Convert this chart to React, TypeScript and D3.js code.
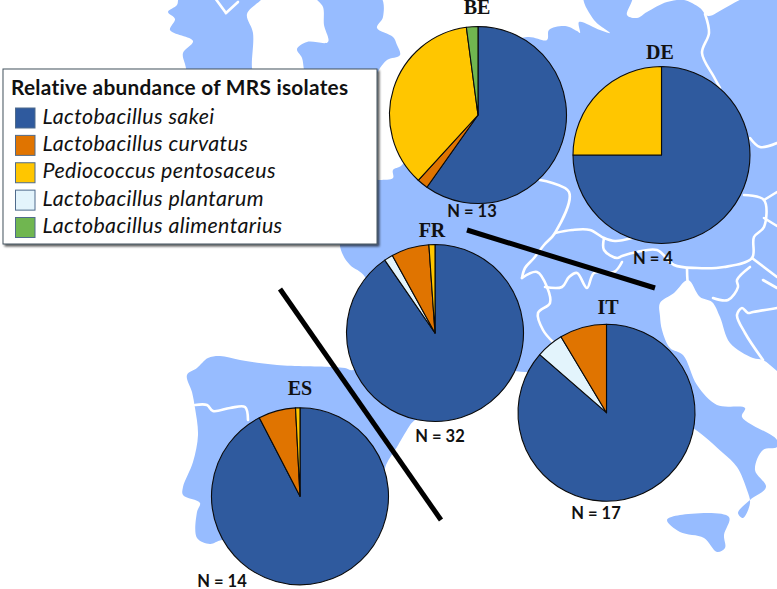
import React from "react";
import * as d3 from "d3";

// ---- data ----
const legendTitle = "Relative abundance of MRS isolates";
const legendOrder = ["Lactobacillus sakei", "Lactobacillus curvatus", "Pediococcus pentosaceus", "Lactobacillus plantarum", "Lactobacillus alimentarius"];
const sliceOrder = ["Lactobacillus sakei", "Lactobacillus plantarum", "Lactobacillus curvatus", "Pediococcus pentosaceus", "Lactobacillus alimentarius"];
const speciesColors = ["#2F5A9E", "#E07400", "#FFC600", "#E3F4FC", "#70B650"];

const countries = ["BE", "DE", "FR", "IT", "ES"];
const sampleSizes = [13, 4, 32, 17, 14];
// percentages, in sliceOrder
const beValues = [59.8, 0, 2, 36.1, 2.1];
const deValues = [75, 0, 0, 25, 0];
const frValues = [90.4, 1.6, 6.9, 1.1, 0];
const itValues = [86.4, 5, 8.6, 0, 0];
const esValues = [92.4, 0, 6.8, 0.8, 0];
const allValues = [beValues, deValues, frValues, itValues, esValues];

// backdrop map outlines, in picture pixels
type P = [number, number];
const ireland: P[] = [[168, 12], [175, 19], [170, 30], [193, 41], [183, 53], [185, 64], [192, 80], [255, 80], [252, 68], [253, 33], [247, 14], [263, -4], [180, -4], [177, 5]];
const britain: P[] = [[315, -4], [323, 7], [324, 25], [328, 42], [307, 42], [297, 49], [302, 58], [304, 70], [306, 80], [372, 80], [380, 68], [387, 60], [400, 55], [397, 45], [393, 37], [377, 28], [383, 17], [380, -4]];
const mainland: P[] = [
  [372, 180], [380, 180], [393, 178], [393, 170], [402, 165], [470, 60], [527, 37], [547, 40], [549, 30], [565, 26], [577, 31], [580, 33], [579, 22],
  [600, 30], [610, 33], [594, 20], [584, -4], [632, -4], [627, 15], [637, 18], [647, 12], [667, 2], [684, 0], [700, 8], [708, 16], [725, 8], [750, -4], [790, -4],
  [790, 382], [777, 371], [763, 360], [753, 358], [730, 343], [720, 317], [712, 302], [700, 297], [688, 280], [674, 293], [660, 303], [660, 316], [662, 330],
  [670, 348], [683, 355], [697, 385], [717, 405], [745, 408], [742, 417], [777, 440], [777, 447], [763, 450], [755, 470], [766, 487], [750, 500], [738, 513],
  [743, 518], [750, 503], [747, 490], [737, 467], [723, 453], [693, 428], [640, 400], [560, 376], [525, 372], [500, 372], [470, 400], [415, 420], [407, 430],
  [397, 447], [386, 465], [380, 490], [350, 520], [300, 540], [222, 540], [210, 544], [197, 538], [197, 512], [200, 503], [183, 495], [183, 487], [193, 462],
  [198, 435], [195, 408], [192, 392], [187, 375], [197, 368], [208, 358], [220, 356], [240, 360], [277, 365], [333, 367], [345, 368], [353, 370], [375, 330],
  [365, 277], [350, 265], [343, 255], [340, 240],
];
const sicily: P[] = [[667, 520], [680, 515], [729, 517], [724, 535], [725, 548], [717, 552], [704, 538], [680, 532]];

const borders: P[][] = [
  [[226, 13], [215, -2]],
  [[226, 13], [238, 2]],
  [[540, 180], [569, 192], [555, 233], [544, 245], [534, 258], [525, 268], [522, 278]],
  [[522, 278], [537, 272], [547, 287], [550, 303], [538, 313], [543, 330], [553, 342]],
  [[555, 233], [572, 230], [590, 230], [604, 238], [615, 241], [632, 238]],
  [[604, 238], [604, 250], [617, 258], [622, 256], [637, 252], [657, 250], [674, 265], [697, 268], [724, 267], [752, 258], [754, 237], [764, 227], [764, 200], [744, 195]],
  [[764, 200], [777, 192]],
  [[764, 218], [777, 226]],
  [[752, 258], [777, 277]],
  [[622, 262], [614, 272], [594, 273], [587, 288], [577, 273], [569, 277], [562, 287], [545, 287]],
  [[687, 268], [689, 290], [695, 300]],
  [[750, 267], [737, 280], [738, 287], [728, 300], [713, 298]],
  [[705, 14], [709, 33], [702, 53], [714, 77], [720, 88]],
  [[750, 138], [760, 147], [777, 143]],
  [[763, 360], [745, 333], [737, 315], [742, 308], [748, 313], [753, 312], [777, 308]],
  [[763, 280], [777, 288]],
  [[195, 405], [207, 405], [213, 411], [230, 408], [245, 407], [248, 420]],
];

const dividers: P[][] = [
  [[467, 230], [655, 288]],
  [[280, 289], [441, 520]],
];

const pieCenters: P[] = [[478, 115], [661.5, 155], [435, 333], [606.5, 412.7], [300, 496.3]];
const countryLabelPos: P[] = [[477, 14], [660, 59], [432, 237], [608, 314], [300, 395]];
const sampleLabelPos: P[] = [[472, 217], [653, 264], [440, 442], [596, 519], [222, 587]];

// ---- helpers ----
const pieRadius = 88.5;
const pie = d3.pie<number>().sort(null).value((d) => d);
const arc = d3.arc<d3.PieArcDatum<number>>().innerRadius(0).outerRadius(pieRadius);
const colorOf = d3.scaleOrdinal<string, string>().domain(legendOrder).range(speciesColors);
const landPath = d3.line<P>().curve(d3.curveCatmullRomClosed.alpha(0.5));
const borderPath = d3.line<P>().curve(d3.curveCatmullRom.alpha(0.5));
const rowY = d3.scaleLinear().domain([0, 4]).range([118, 227.5]);

const LAND = "#97BCFF";
const SANS = "Lato, 'Open Sans', sans-serif";
const SERIF = "'Liberation Serif', serif";

export default function App() {
  return (
    <svg width={777} height={589} style={{ position: "absolute", left: 0, top: 0, display: "block", background: "#fff" }}>
      <defs>
        <filter id="soft" x="-5%" y="-5%" width="110%" height="110%">
          <feGaussianBlur stdDeviation="0.7" />
        </filter>
        <filter id="shadow" x="-3%" y="-3%" width="108%" height="110%">
          <feDropShadow dx="2" dy="2" stdDeviation="1.2" floodColor="#000" floodOpacity="0.65" />
        </filter>
      </defs>

      <g filter="url(#soft)">
        {[ireland, britain, mainland, sicily].map((poly, i) => (
          <path key={i} d={landPath(poly) ?? ""} fill={LAND} />
        ))}
        {borders.map((b, i) => (
          <path key={i} d={borderPath(b) ?? ""} fill="none" stroke="#fff" strokeWidth={2.6} strokeLinejoin="round" strokeLinecap="round" />
        ))}
      </g>

      {dividers.map((l, i) => (
        <line key={i} x1={l[0][0]} y1={l[0][1]} x2={l[1][0]} y2={l[1][1]} stroke="#000" strokeWidth={5} />
      ))}

      {countries.map((c, i) => (
        <g key={c}>
          <g transform={`translate(${pieCenters[i][0]},${pieCenters[i][1]})`}>
            {pie(allValues[i]).map((s, j) =>
              s.value > 0 ? (
                <path key={j} d={arc(s) ?? ""} fill={colorOf(sliceOrder[j])} stroke="#0a0a0a" strokeWidth={1.1} strokeLinejoin="round" />
              ) : null
            )}
          </g>
          <text x={countryLabelPos[i][0]} y={countryLabelPos[i][1]} textAnchor="middle" fontFamily={SERIF} fontWeight={700} fontSize={20} fill="#111">
            {c}
          </text>
          <text x={sampleLabelPos[i][0]} y={sampleLabelPos[i][1]} textAnchor="middle" fontFamily={SANS} fontWeight={700} fontSize={16.5} fill="#111">
            {`N = ${sampleSizes[i]}`}
          </text>
        </g>
      ))}

      <rect x={3} y={69} width={374} height={175} fill="#fff" stroke="#45525f" strokeWidth={1} filter="url(#shadow)" />
      <text x={11} y={95} fontFamily={SANS} fontWeight={700} fontSize={20.8} letterSpacing={0.27} fill="#111">
        {legendTitle}
      </text>
      {legendOrder.map((name, i) => (
        <g key={name}>
          <rect x={15.5} y={rowY(i) - 10} width={19.5} height={20} fill={colorOf(name)} stroke="#4f6b8c" strokeWidth={1} />
          <text x={42.5} y={rowY(i) + 5.5} fontFamily={SANS} fontStyle="italic" fontSize={21.4} letterSpacing={0.4} fill="#111">
            {name}
          </text>
        </g>
      ))}
    </svg>
  );
}
